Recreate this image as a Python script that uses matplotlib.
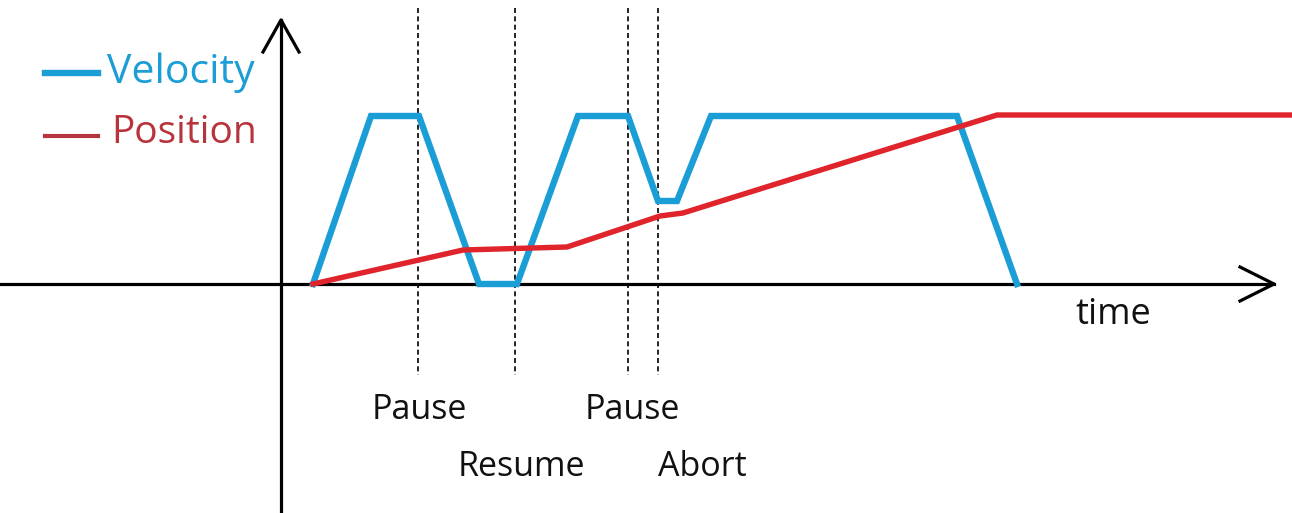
import matplotlib.pyplot as plt

# motion profile, in screen units (x to the right, y downwards)
vel_t = [313, 371, 419, 479, 517, 578, 628, 658, 677, 711, 957, 1017]
vel_v = [284, 116, 116, 284, 284, 116, 116, 201, 201, 116, 116, 284]

pos_t = [313, 463, 567, 660, 683, 997, 1292]
pos_v = [284, 250, 247, 216, 213, 115, 115]

event_t = [418, 515, 628, 658]
event_names = ['Pause', 'Resume', 'Pause', 'Abort']

blue = '#1b9dd6'
red = '#e0242c'

plt.rcParams['font.family'] = ['Open Sans', 'DejaVu Sans']

fig = plt.figure(figsize=(12.92, 5.13), dpi=100)
ax = fig.add_axes([0, 0, 1, 1])
ax.set_xlim(0, 1292)
ax.set_ylim(513, 0)
ax.axis('off')

# axes with open arrow heads
ax.plot([0, 1274], [284, 284], color='black', linewidth=2.3)
ax.plot([1240, 1274, 1240], [267, 284, 301], color='black', linewidth=2.3)
ax.plot([281, 281], [513, 20], color='black', linewidth=2.3)
ax.plot([263, 281, 299], [52, 20, 52], color='black', linewidth=2.3)

# event markers
for t in event_t:
    ax.plot([t, t], [8, 375], color='black', linewidth=1.2,
            linestyle=(0, (3, 2)))

ax.plot(vel_t, vel_v, color=blue, linewidth=4.6, solid_joinstyle='miter')
ax.plot(pos_t, pos_v, color=red, linewidth=3.9, solid_joinstyle='round')

# legend
ax.plot([45, 98], [73, 73], color=blue, linewidth=4.6)
ax.text(107, 73, 'Velocity', color=blue, fontsize=29.5, va='center')
ax.plot([45, 98], [136, 136], color='#b8343c', linewidth=3.0)
ax.text(111, 133, 'Position', color='#b8343c', fontsize=28, va='center')

label_x = [419, 521, 632, 702]
label_y = [410, 467, 410, 467]
for name, x, y in zip(event_names, label_x, label_y):
    ax.text(x, y, name, fontsize=24.5, ha='center', va='center', color='#111111')

ax.text(1113, 315, 'time', fontsize=26, ha='center', va='center', color='#111111')

fig.savefig('out.png', dpi=100)
